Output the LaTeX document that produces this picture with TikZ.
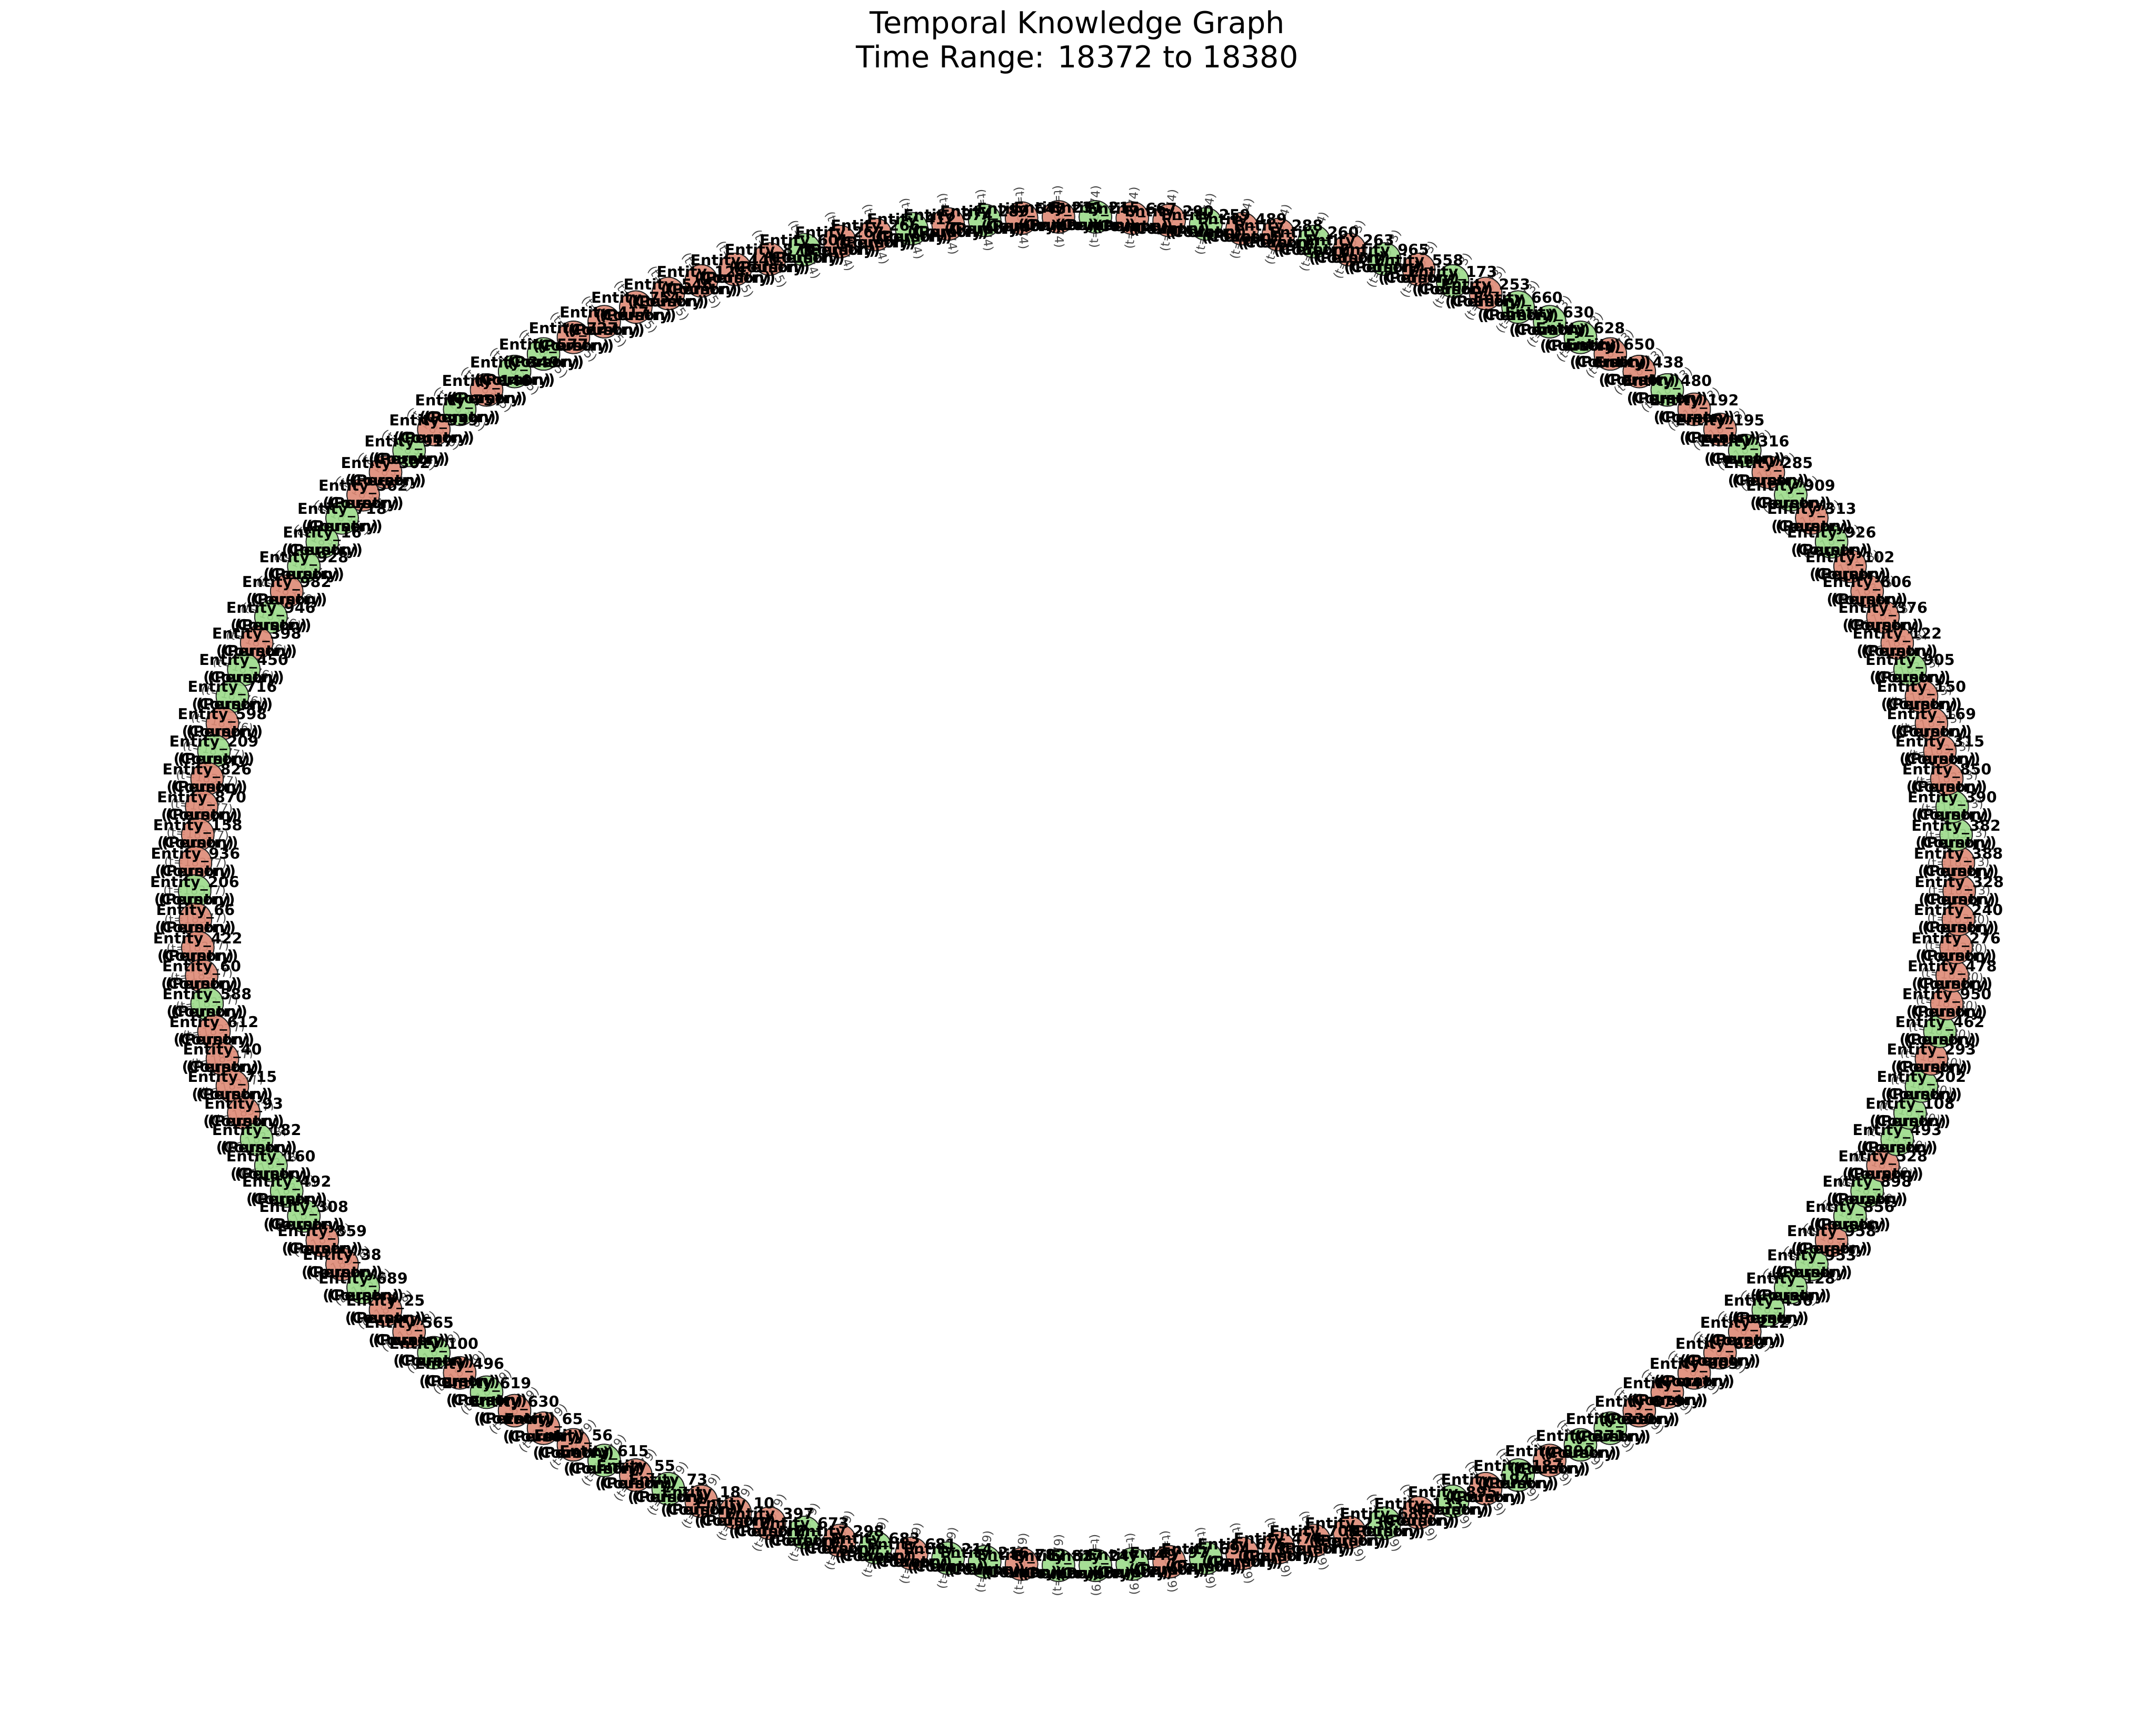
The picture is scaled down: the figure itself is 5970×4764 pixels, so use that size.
\documentclass[tikz,border=0pt]{standalone}
\usepackage{fontspec}
\setmainfont{DejaVu Sans}
\definecolor{salm}{RGB}{222,138,118}
\definecolor{lgreen}{RGB}{155,218,138}
\definecolor{edgegray}{RGB}{70,70,70}
\tikzset{
  ent/.style={circle, minimum size=21.6pt, inner sep=0pt, draw=black!85, line width=0.7pt, fill opacity=0.9},
  ent-s/.style={ent, fill=salm},
  ent-g/.style={ent, fill=lgreen},
  lab/.style={font=\bfseries\fontsize{10}{11}\selectfont, anchor=base, inner sep=0pt},
  elabel/.style={font=\fontsize{8}{9}\selectfont, text=edgegray, inner sep=0pt},
  ttl/.style={font=\fontsize{20}{24}\selectfont, anchor=base, inner sep=0pt}
}
\def\entlist{328/s,388/s,382/g,390/g,850/s,315/s,169/s,150/s,905/g,122/s,376/s,606/s,102/s,926/g,313/s,909/g,285/s,316/g,195/s,192/s,480/g,438/s,650/s,628/g,630/g,660/g,253/s,173/g,558/s,965/g,263/s,260/g,288/s,489/s,259/g,290/s,667/s,215/g,231/s,645/s,289/g,874/s,412/g,266/s,267/s,601/g,873/s,441/s,124/s,546/s,754/s,417/s,727/s,577/g,349/g,146/s,757/g,339/s,917/g,302/s,562/s,718/g,16/g,928/g,982/s,946/g,398/s,450/g,716/g,598/s,209/g,826/s,870/s,158/s,936/s,206/g,66/s,422/s,60/s,588/g,612/s,40/s,715/s,93/s,182/g,160/g,492/g,308/g,859/s,38/s,689/g,25/s,565/s,100/g,496/s,619/g,630/s,65/s,56/s,615/g,55/s,73/g,18/s,10/s,397/s,673/g,298/s,683/g,681/s,214/g,216/g,782/s,827/g,247/g,149/g,97/s,694/g,675/s,474/s,703/s,235/s,688/g,133/s,895/g,194/s,187/g,890/s,371/g,330/g,879/s,447/s,603/s,620/s,212/s,456/g,128/g,953/g,958/s,856/g,898/g,528/s,493/g,108/g,202/g,293/s,462/g,950/s,478/s,276/s,240/s}
\begin{document}
\begin{tikzpicture}[x=0.24pt,y=-0.24pt]
\useasboundingbox (0,0) rectangle (5970,4764);
% title
\node[ttl] (title1) at (2983,93) {Temporal Knowledge Graph};
\node[ttl] (title2) at (2983,187) {Time Range: 18372 to 18380};
% edge labels (time stamps), under the nodes
\foreach \n/\c [count=\i from 0] in \entlist {
  \pgfmathsetmacro\th{\i*2.4}
  \pgfmathsetmacro\px{2982+2443*cos(\th)}
  \pgfmathsetmacro\py{2467-1867*sin(\th)}
  \pgfmathsetmacro\al{atan2(1867*sin(\th),2443*cos(\th))}
  \pgfmathsetmacro\al{\al>90 ? \al-180 : (\al<-90 ? \al+180 : \al)}
  \pgfmathtruncatemacro\dd{\i<31 ? 73 : (\i<46 ? 74 : (\i<57 ? 75 : (\i<70 ? 76 : (\i<84 ? 77 : (\i<94 ? 78 : (\i<134 ? 79 : 80))))))}
  \node[elabel, rotate=\al] (t\i) at (\px,\py) {(t=183\dd)};
}
% entity nodes
\foreach \n/\c [count=\i from 0] in \entlist {
  \pgfmathsetmacro\th{\i*2.4}
  \pgfmathsetmacro\px{2982+2443*cos(\th)}
  \pgfmathsetmacro\py{2467-1867*sin(\th)}
  \node[ent-\c] (e\i) at (\px,\py) {};
}
% entity labels
\foreach \n/\c [count=\i from 0] in \entlist {
  \node[lab] (la\i) at ([yshift=2.6pt]e\i.center) {Entity\_\n};
  \node[lab] (lb\i) at ([yshift=-8.9pt]e\i.center) {(Person)};
  \node[lab] (lc\i) at ([yshift=-8.9pt]e\i.center) {(Country)};
}
\end{tikzpicture}
\end{document}
